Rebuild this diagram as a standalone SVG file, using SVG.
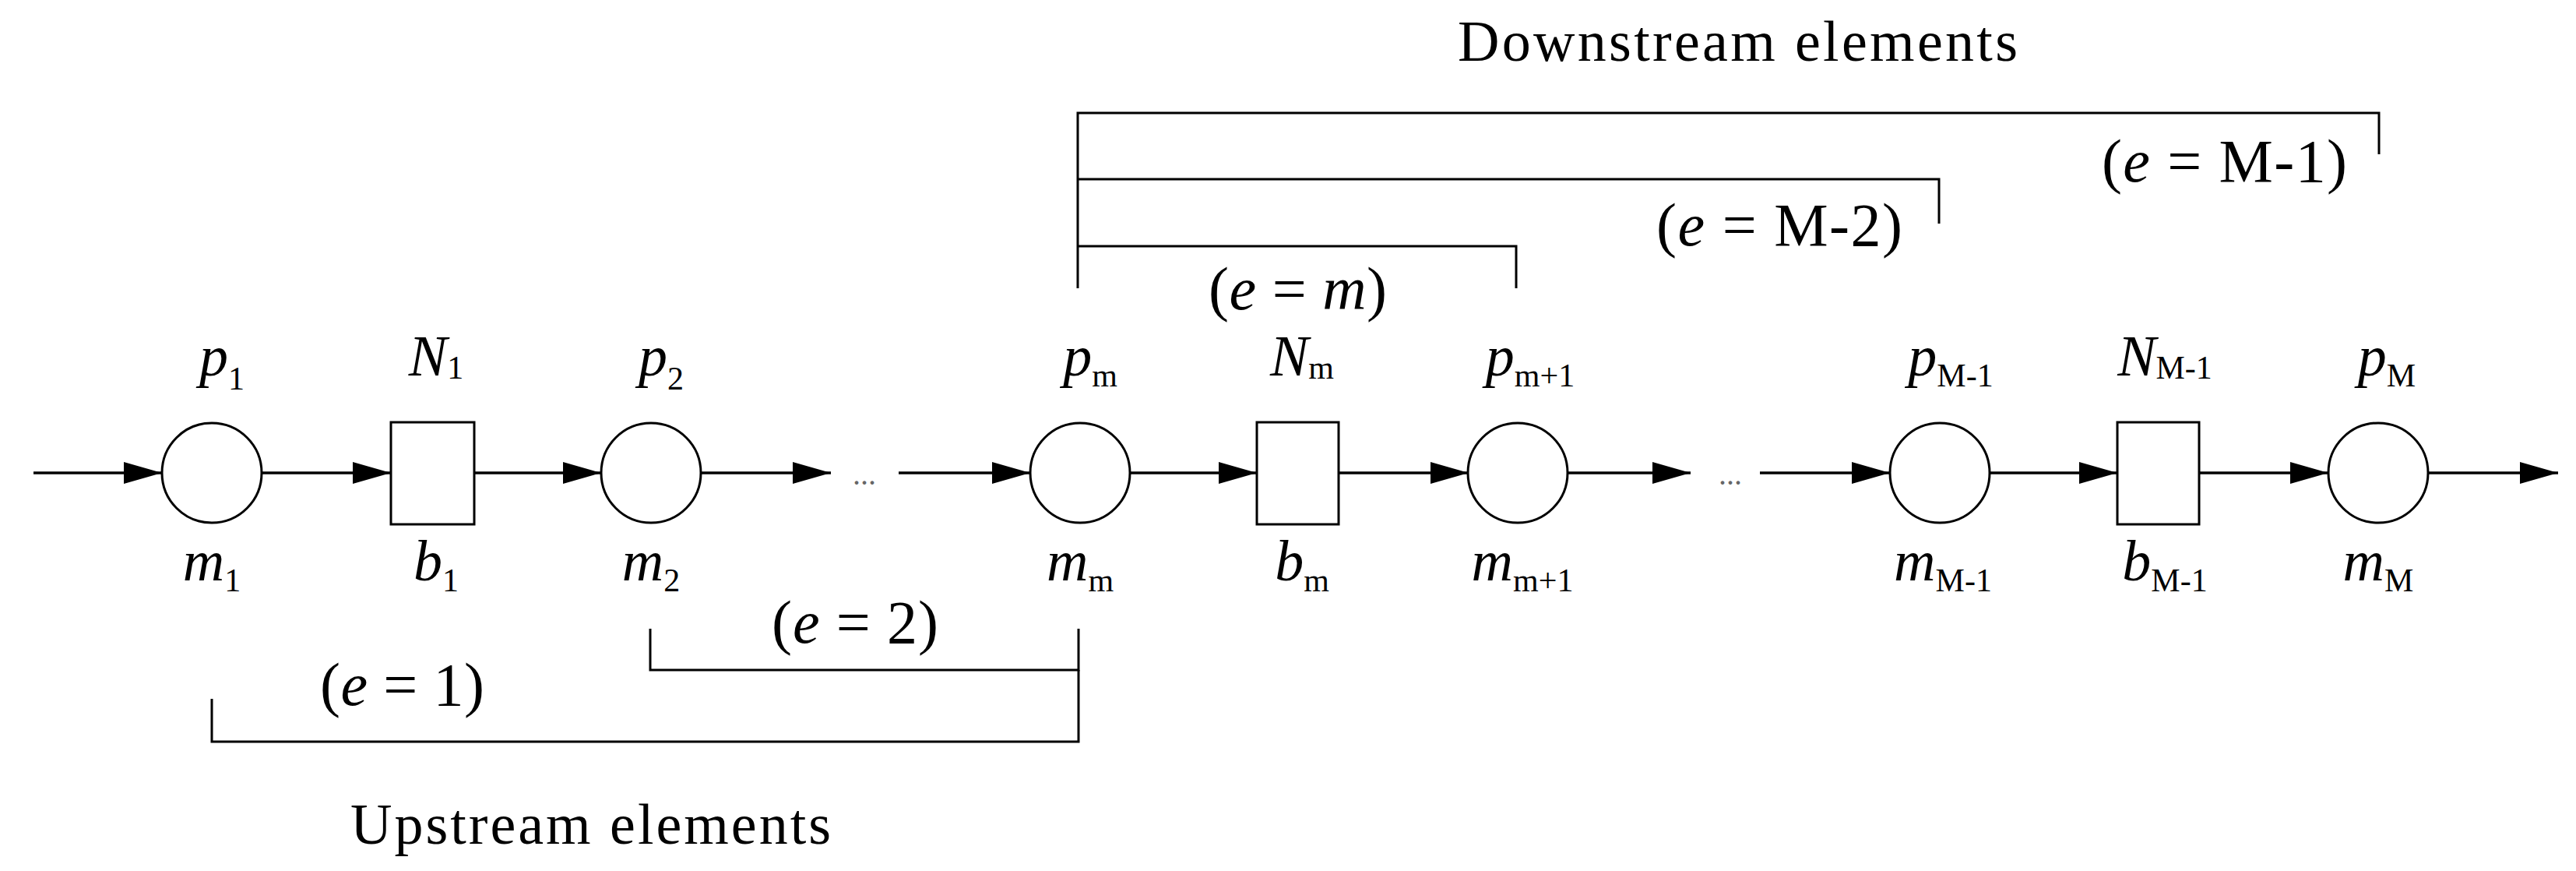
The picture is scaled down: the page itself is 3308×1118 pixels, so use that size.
<svg xmlns="http://www.w3.org/2000/svg" width="3308" height="1118" viewBox="0 0 3308 1118">
<defs>
<marker id="ah" markerWidth="14" markerHeight="8" refX="14" refY="4" orient="auto" markerUnits="strokeWidth"><path d="M0,0 L14,4 L0,8 Z" fill="#000"/></marker>
<style>
.n{fill:#fff;stroke:#000;stroke-width:3}
.c{stroke:#000;stroke-width:3.5;fill:none}
.b{stroke:#000;stroke-width:3;fill:none}
.l{font-family:"Liberation Serif",serif;font-style:italic;font-size:74px;text-anchor:middle}
.s{font-style:normal;font-size:42px}
.e{font-family:"Liberation Serif",serif;font-size:78px}
.t{font-family:"Liberation Serif",serif;font-size:74px}
</style>
</defs>
<rect width="3308" height="1118" fill="#fff"/>
<g id="connectors">
<line class="c" x1="43" y1="607" x2="208" y2="607" marker-end="url(#ah)"/>
<line class="c" x1="336" y1="607" x2="502" y2="607" marker-end="url(#ah)"/>
<line class="c" x1="609" y1="607" x2="772" y2="607" marker-end="url(#ah)"/>
<line class="c" x1="900" y1="607" x2="1067" y2="607" marker-end="url(#ah)"/>
<line class="c" x1="1154" y1="607" x2="1323" y2="607" marker-end="url(#ah)"/>
<line class="c" x1="1451" y1="607" x2="1614" y2="607" marker-end="url(#ah)"/>
<line class="c" x1="1719" y1="607" x2="1886" y2="607" marker-end="url(#ah)"/>
<line class="c" x1="2013" y1="607" x2="2171" y2="607" marker-end="url(#ah)"/>
<line class="c" x1="2260" y1="607" x2="2427" y2="607" marker-end="url(#ah)"/>
<line class="c" x1="2555" y1="607" x2="2719" y2="607" marker-end="url(#ah)"/>
<line class="c" x1="2824" y1="607" x2="2990" y2="607" marker-end="url(#ah)"/>
<line class="c" x1="3118" y1="607" x2="3285" y2="607" marker-end="url(#ah)"/>
<text x="1110" y="622" font-family="Liberation Serif,serif" font-size="40" fill="#666" text-anchor="middle">...</text>
<text x="2222" y="622" font-family="Liberation Serif,serif" font-size="40" fill="#666" text-anchor="middle">...</text>
</g>
<g id="p1"><circle class="n" cx="272" cy="607" r="64"/><text class="l" x="285" y="482">p<tspan class="s" dy="18">1</tspan></text><text class="l" x="272" y="745">m<tspan class="s" dy="14">1</tspan></text></g>
<g id="N1"><rect class="n" x="502" y="542" width="107" height="131"/><text class="l" x="560" y="482">N<tspan class="s" dy="4">1</tspan></text><text class="l" x="560" y="745">b<tspan class="s" dy="14">1</tspan></text></g>
<g id="p2"><circle class="n" cx="836" cy="607" r="64"/><text class="l" x="849" y="482">p<tspan class="s" dy="18">2</tspan></text><text class="l" x="836" y="745">m<tspan class="s" dy="14">2</tspan></text></g>
<g id="pm"><circle class="n" cx="1387" cy="607" r="64"/><text class="l" x="1400" y="482">p<tspan class="s" dy="14">m</tspan></text><text class="l" x="1387" y="745">m<tspan class="s" dy="14">m</tspan></text></g>
<g id="Nm"><rect class="n" x="1614" y="542" width="105" height="131"/><text class="l" x="1672" y="482">N<tspan class="s" dy="4">m</tspan></text><text class="l" x="1672" y="745">b<tspan class="s" dy="14">m</tspan></text></g>
<g id="pm1"><circle class="n" cx="1949" cy="607" r="64"/><text class="l" x="1965" y="482">p<tspan class="s" dy="14">m+1</tspan></text><text class="l" x="1955" y="745">m<tspan class="s" dy="14">m+1</tspan></text></g>
<g id="pM1"><circle class="n" cx="2491" cy="607" r="64"/><text class="l" x="2505" y="482">p<tspan class="s" dy="14">M-1</tspan></text><text class="l" x="2495" y="745">m<tspan class="s" dy="14">M-1</tspan></text></g>
<g id="NM1"><rect class="n" x="2719" y="542" width="105" height="131"/><text class="l" x="2780" y="482">N<tspan class="s" dy="4">M-1</tspan></text><text class="l" x="2780" y="745">b<tspan class="s" dy="14">M-1</tspan></text></g>
<g id="pM"><circle class="n" cx="3054" cy="607" r="64"/><text class="l" x="3065" y="482">p<tspan class="s" dy="14">M</tspan></text><text class="l" x="3054" y="745">m<tspan class="s" dy="14">M</tspan></text></g>
<g id="brackets">
<path class="b" d="M1384 370 V145 H3055 V198"/>
<path class="b" d="M1384 230 H2490 V287"/>
<path class="b" d="M1384 316 H1947 V370"/>
<path class="b" d="M835 807 V860 H1385 V807"/>
<path class="b" d="M272 897 V952 H1385 V860"/>
<text class="e" x="2699" y="233" textLength="315">(<tspan font-style="italic">e</tspan> = M-1)</text>
<text class="e" x="2127" y="315" textLength="316">(<tspan font-style="italic">e</tspan> = M-2)</text>
<text class="e" x="1552" y="397" textLength="229">(<tspan font-style="italic">e</tspan> = <tspan font-style="italic">m</tspan>)</text>
<text class="e" x="991" y="825" textLength="214">(<tspan font-style="italic">e</tspan> = 2)</text>
<text class="e" x="411" y="905" textLength="211">(<tspan font-style="italic">e</tspan> = 1)</text>
<text class="t" x="1872" y="78" textLength="719">Downstream elements</text>
<text class="t" x="450" y="1083" textLength="617">Upstream elements</text>
</g>
</svg>
